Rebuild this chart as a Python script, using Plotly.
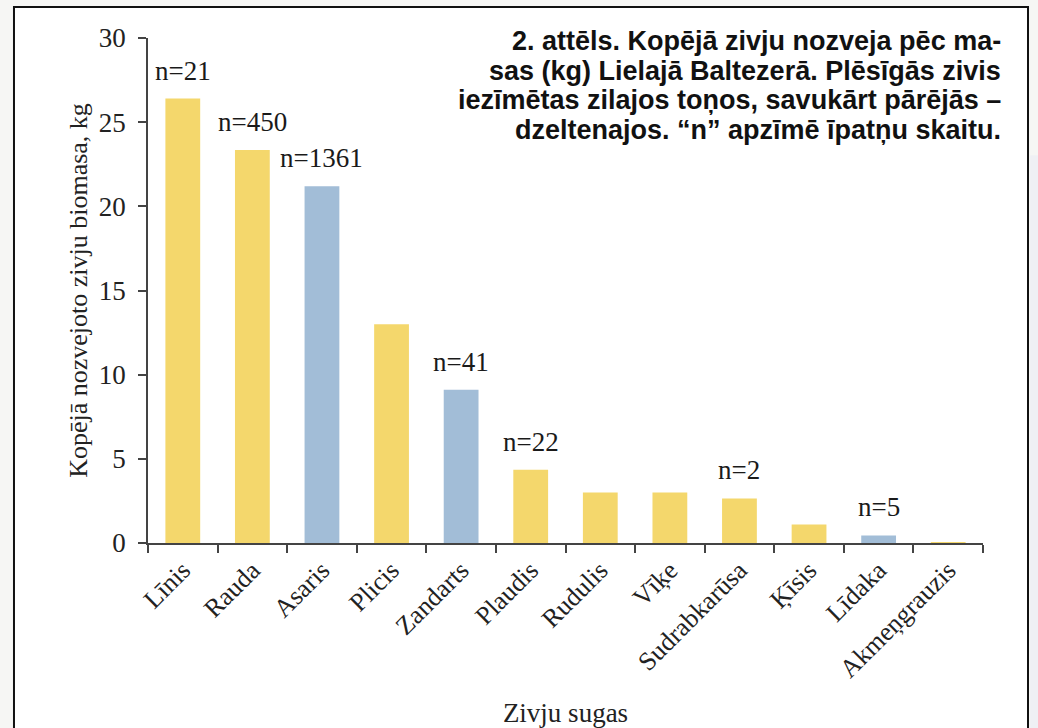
import plotly.graph_objects as go

categories = ["Līnis", "Rauda", "Asaris", "Plicis", "Zandarts", "Plaudis", "Rudulis",
              "Vīķe", "Sudrabkarūsa", "Ķīsis", "Līdaka", "Akmeņgrauzis"]
biomass_kg = [26.4, 23.35, 21.2, 13.0, 9.1, 4.35, 3.0, 3.0, 2.65, 1.1, 0.45, 0.05]
is_predator = [False, False, True, False, True, False, False, False, False, False, True, False]
n_labels = ["21", "450", "1361", "", "41", "22", "", "", "2", "", "5", ""]
title_lines = ["2. attēls. Kopējā zivju nozveja pēc ma-",
               "sas (kg) Lielajā Baltezerā. Plēsīgās zivis",
               "iezīmētas zilajos toņos, savukārt pārējās –",
               "dzeltenajos. “n” apzīmē īpatņu skaitu."]

YELLOW = "#F4D76C"
BLUE = "#A2BDD7"
colors = [BLUE if p else YELLOW for p in is_predator]

serif = "Liberation Serif, Times New Roman, serif"
sans = "Liberation Sans, Arial, sans-serif"

fig = go.Figure()
fig.add_trace(go.Bar(x=categories, y=biomass_kg, marker=dict(color=colors, line=dict(width=0)),
                     hoverinfo="x+y"))

for c, v, n in zip(categories, biomass_kg, n_labels):
    if n:
        fig.add_annotation(x=c, y=v, text=f"n={n}", showarrow=False, yanchor="bottom",
                           yshift=11, font=dict(family=serif, size=27, color="#1a1a1a"))

# title block, one annotation per line for tight line spacing
line_step = 29.7 / 505.0
for i, line in enumerate(title_lines):
    fig.add_annotation(xref="paper", yref="paper", x=1.024, y=(543 - 52) / 505.0 - i * line_step,
                       xanchor="right", yanchor="bottom", yshift=-6, showarrow=False,
                       text="<b>" + line + "</b>",
                       font=dict(family=sans, size=27, color="#111"))

# frame
fig.add_shape(type="rect", xref="paper", yref="paper", x0=-0.1605, x1=1.0539, y0=-0.5, y1=1.0614,
              line=dict(color="#111", width=2), fillcolor="white", layer="below")
fig.add_shape(type="rect", xref="paper", yref="paper", x0=1.0565, x1=1.2, y0=-0.5, y1=0.768,
              line=dict(width=0), fillcolor="#EFF0F4", layer="below")

fig.update_layout(
    width=1038, height=728,
    margin=dict(l=148, r=55, t=38, b=185),
    paper_bgcolor="#F6F6F4", plot_bgcolor="rgba(0,0,0,0)",
    bargap=0.5, showlegend=False,
    font=dict(family=serif, color="#222"),
)
fig.update_xaxes(
    type="category", range=[-0.5, 11.5], tickangle=-45, tickson="boundaries",
    ticks="outside", ticklen=8, tickcolor="#444", tickwidth=1.5, automargin=False,
    showline=True, linecolor="#444", linewidth=1.5, showgrid=False,
    tickfont=dict(family=serif, size=26, color="#222"),
    title=dict(text="Zivju sugas", font=dict(family=serif, size=27, color="#222"), standoff=30),
)
fig.update_yaxes(
    range=[0, 30], tickvals=[0, 5, 10, 15, 20, 25, 30], ticks="outside", ticklen=8,
    tickcolor="#444", tickwidth=1.5, showline=True, linecolor="#444", linewidth=1.5,
    showgrid=False, zeroline=False, ticklabelstandoff=7, automargin=False,
    tickfont=dict(family=serif, size=27, color="#222"),
    title=dict(text="Kopējā nozvejoto zivju biomasa, kg", font=dict(family=serif, size=26, color="#222"),
               standoff=4),
)

fig.write_html("out.html", config={"displayModeBar": False},
               post_script="document.body.style.margin='0';")
